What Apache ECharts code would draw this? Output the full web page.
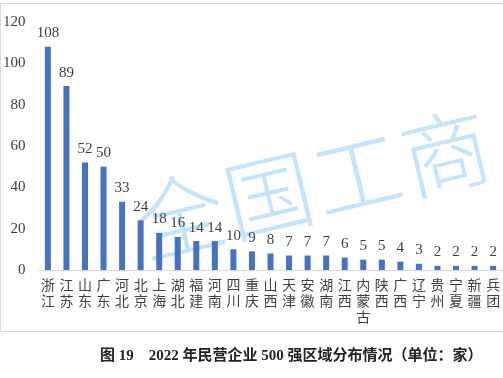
<!DOCTYPE html>
<html>
<head>
<meta charset="utf-8">
<script src="https://cdn.jsdelivr.net/npm/echarts@6/dist/echarts.min.js"></script>
<style>
html,body{margin:0;padding:0;background:#fff;}
#c{width:503px;height:378px;}
</style>
</head>
<body>
<div id="c"></div>
<script>
var categories = ['浙江','江苏','山东','广东','河北','北京','上海','湖北','福建','河南','四川','重庆','山西','天津','安徽','湖南','江西','内蒙古','陕西','广西','辽宁','贵州','宁夏','新疆','兵团'];
var values = [108, 89, 52, 50, 33, 24, 18, 16, 14, 14, 10, 9, 8, 7, 7, 7, 6, 5, 5, 4, 3, 2, 2, 2, 2];
var yTicks = [0, 20, 40, 60, 80, 100, 120];
var captionText = '图 19    2022 年民营企业 500 强区域分布情况（单位：家）';
var watermarkChars = ['全','国','工','商'];

var serif = '"Liberation Serif", "Noto Sans CJK SC", serif';
var chart = echarts.init(document.getElementById('c'));

var wm = watermarkChars.map(function(ch, i){
  return {type:'text', x: i*91, y: 0,
    style:{text: ch, x:0, y:0, align:'center', verticalAlign:'middle',
      font:'300 88px "Noto Sans CJK SC"', fill:'#c2e4fc'}};
});

chart.setOption({
  animation:false,
  backgroundColor:'#fff',
  grid:{left:38.6, right:-6, top:22, bottom:108},
  xAxis:{type:'category', data:categories,
    axisLine:{lineStyle:{color:'#d9d9d9', width:1}},
    axisTick:{show:false},
    axisLabel:{interval:0, margin:7, color:'#404040', fontSize:14, lineHeight:16,
      fontFamily:'"Noto Sans CJK SC"',
      formatter:function(v){return v.split('').join('\n');}}
  },
  yAxis:{type:'value', min:yTicks[0], max:yTicks[yTicks.length-1], interval:20,
    splitLine:{show:false}, axisLine:{show:false}, axisTick:{show:false},
    axisLabel:{color:'#404040', fontSize:15, fontFamily:serif, margin:13}
  },
  series:[{type:'bar', data:values, barWidth:6, itemStyle:{color:'#4472C4'},
    label:{show:true, position:'top', distance:6, color:'#404040', fontSize:15, fontFamily:serif}
  }],
  graphic:[
    {type:'rect', shape:{x:0.5, y:3.5, width:520, height:328}, style:{fill:'none', stroke:'#d9d9d9', lineWidth:1}, z:-1},
    {type:'group', x:180, y:216, rotation:0.235, children:wm, z:10},
    {type:'text', x:100, y:356, style:{text:captionText, font:'bold 15px ' + serif, fill:'#222', verticalAlign:'middle'}}
  ]
});
</script>
</body>
</html>
